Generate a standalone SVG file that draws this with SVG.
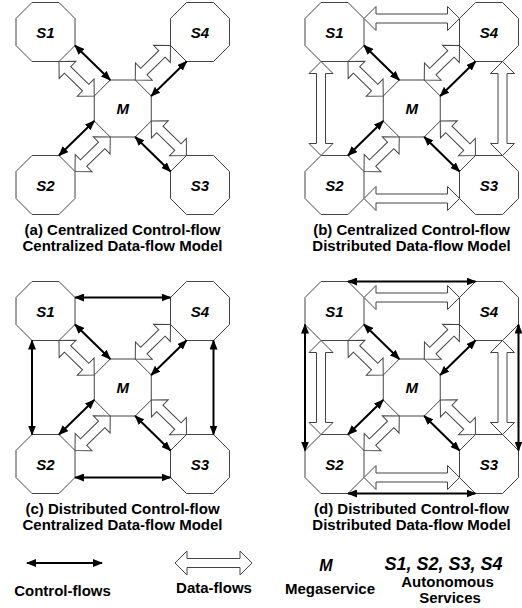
<svg xmlns="http://www.w3.org/2000/svg" width="522" height="608" viewBox="0 0 522 608">
<style>
.oct{fill:#fff;stroke:#444;stroke-width:1}
.data{fill:#fff;stroke:#444;stroke-width:1}
.ctrl{fill:none;stroke:#000;stroke-width:2;marker-start:url(#ah);marker-end:url(#ah)}
.lbl{font-family:"Liberation Sans",Arial,sans-serif;font-weight:bold;font-style:italic;font-size:15px;text-anchor:middle;fill:#000}
.cap{font-family:"Liberation Sans",Arial,sans-serif;font-weight:bold;font-size:15px;text-anchor:middle;fill:#000}
</style>
<defs>
  <marker id="ah" viewBox="0 0 10 8" refX="9" refY="4" markerWidth="10" markerHeight="8" markerUnits="userSpaceOnUse" orient="auto-start-reverse">
    <path d="M0,0 L10,4 L0,8 z" fill="#000"/>
  </marker>
  <!-- service and megaservice octagons, centred on the origin -->
  <polygon id="octS" points="-13.5,-29.5 13.5,-29.5 29.5,-13.5 29.5,13.5 13.5,29.5 -13.5,29.5 -29.5,13.5 -29.5,-13.5"/>
  <polygon id="octM" points="-12.5,-28.5 12.5,-28.5 28.5,-12.5 28.5,12.5 12.5,28.5 -12.5,28.5 -28.5,12.5 -28.5,-12.5"/>
  <!-- hollow double-headed data-flow arrows -->
  <polygon id="dDiag" points="0,0 12,-12 12,-4.5 37.3,-4.5 37.3,-12 49.3,0 37.3,12 37.3,4.5 12,4.5 12,12"/>
  <polygon id="dH" points="0,0 12,-12 12,-4.5 83.5,-4.5 83.5,-12 95.5,0 83.5,12 83.5,4.5 12,4.5 12,12"/>
  <polygon id="dV" points="0,0 -12,12 -4.5,12 -4.5,82 -12,82 0,94 12,82 4.5,82 4.5,12 12,12"/>
</defs>

<!-- (a) centralized control, centralized data -->
<g id="panel-a">
  <g id="a-S1"><use href="#octS" class="oct" x="45.5" y="32"/><text class="lbl" x="45.5" y="37.5">S1</text></g>
  <g id="a-S4"><use href="#octS" class="oct" x="200" y="32"/><text class="lbl" x="200" y="37.5">S4</text></g>
  <g id="a-S2"><use href="#octS" class="oct" x="45.5" y="185"/><text class="lbl" x="45.5" y="190.5">S2</text></g>
  <g id="a-S3"><use href="#octS" class="oct" x="200" y="185"/><text class="lbl" x="200" y="190.5">S3</text></g>
  <g id="a-M"><use href="#octM" class="oct" x="122.75" y="108.5"/><text class="lbl" x="122.75" y="114">M</text></g>
  <g id="a-connectors">
    <line class="ctrl" x1="75" y1="45.5" x2="110.25" y2="80"/>
    <line class="ctrl" x1="186.5" y1="61.5" x2="151.25" y2="96"/>
    <line class="ctrl" x1="135.25" y1="137" x2="170.5" y2="171.5"/>
    <line class="ctrl" x1="94.25" y1="121" x2="59" y2="155.5"/>
    <use href="#dDiag" class="data" transform="translate(59,61.5) rotate(44.38)"/>
    <use href="#dDiag" class="data" transform="translate(170.5,45.5) rotate(135.62)"/>
    <use href="#dDiag" class="data" transform="translate(151.25,121) rotate(44.38)"/>
    <use href="#dDiag" class="data" transform="translate(110.25,137) rotate(135.62)"/>
  </g>
  <text class="cap" x="122.5" y="235">(a) Centralized Control-flow</text>
  <text class="cap" x="122.5" y="251">Centralized Data-flow Model</text>
</g>

<!-- (b) centralized control, distributed data -->
<g id="panel-b" transform="translate(289,0)">
  <g id="b-S1"><use href="#octS" class="oct" x="45.5" y="32"/><text class="lbl" x="45.5" y="37.5">S1</text></g>
  <g id="b-S4"><use href="#octS" class="oct" x="200" y="32"/><text class="lbl" x="200" y="37.5">S4</text></g>
  <g id="b-S2"><use href="#octS" class="oct" x="45.5" y="185"/><text class="lbl" x="45.5" y="190.5">S2</text></g>
  <g id="b-S3"><use href="#octS" class="oct" x="200" y="185"/><text class="lbl" x="200" y="190.5">S3</text></g>
  <g id="b-M"><use href="#octM" class="oct" x="122.75" y="108.5"/><text class="lbl" x="122.75" y="114">M</text></g>
  <g id="b-connectors">
    <line class="ctrl" x1="75" y1="45.5" x2="110.25" y2="80"/>
    <line class="ctrl" x1="186.5" y1="61.5" x2="151.25" y2="96"/>
    <line class="ctrl" x1="135.25" y1="137" x2="170.5" y2="171.5"/>
    <line class="ctrl" x1="94.25" y1="121" x2="59" y2="155.5"/>
    <use href="#dDiag" class="data" transform="translate(59,61.5) rotate(44.38)"/>
    <use href="#dDiag" class="data" transform="translate(170.5,45.5) rotate(135.62)"/>
    <use href="#dDiag" class="data" transform="translate(151.25,121) rotate(44.38)"/>
    <use href="#dDiag" class="data" transform="translate(110.25,137) rotate(135.62)"/>
    <use href="#dH" class="data" transform="translate(75,18.5)"/>
    <use href="#dH" class="data" transform="translate(75,198.5)"/>
    <use href="#dV" class="data" transform="translate(32,61.5)"/>
    <use href="#dV" class="data" transform="translate(213.5,61.5)"/>
  </g>
  <text class="cap" x="122.5" y="235">(b) Centralized Control-flow</text>
  <text class="cap" x="122.5" y="251">Distributed Data-flow Model</text>
</g>

<!-- (c) distributed control, centralized data -->
<g id="panel-c" transform="translate(0,279)">
  <g id="c-S1"><use href="#octS" class="oct" x="45.5" y="32"/><text class="lbl" x="45.5" y="37.5">S1</text></g>
  <g id="c-S4"><use href="#octS" class="oct" x="200" y="32"/><text class="lbl" x="200" y="37.5">S4</text></g>
  <g id="c-S2"><use href="#octS" class="oct" x="45.5" y="185"/><text class="lbl" x="45.5" y="190.5">S2</text></g>
  <g id="c-S3"><use href="#octS" class="oct" x="200" y="185"/><text class="lbl" x="200" y="190.5">S3</text></g>
  <g id="c-M"><use href="#octM" class="oct" x="122.75" y="108.5"/><text class="lbl" x="122.75" y="114">M</text></g>
  <g id="c-connectors">
    <line class="ctrl" x1="75" y1="45.5" x2="110.25" y2="80"/>
    <line class="ctrl" x1="186.5" y1="61.5" x2="151.25" y2="96"/>
    <line class="ctrl" x1="135.25" y1="137" x2="170.5" y2="171.5"/>
    <line class="ctrl" x1="94.25" y1="121" x2="59" y2="155.5"/>
    <use href="#dDiag" class="data" transform="translate(59,61.5) rotate(44.38)"/>
    <use href="#dDiag" class="data" transform="translate(170.5,45.5) rotate(135.62)"/>
    <use href="#dDiag" class="data" transform="translate(151.25,121) rotate(44.38)"/>
    <use href="#dDiag" class="data" transform="translate(110.25,137) rotate(135.62)"/>
    <line class="ctrl" x1="75" y1="18.5" x2="170.5" y2="18.5"/>
    <line class="ctrl" x1="75" y1="198.5" x2="170.5" y2="198.5"/>
    <line class="ctrl" x1="32" y1="61.5" x2="32" y2="155.5"/>
    <line class="ctrl" x1="213.5" y1="61.5" x2="213.5" y2="155.5"/>
  </g>
  <text class="cap" x="122.5" y="235">(c) Distributed Control-flow</text>
  <text class="cap" x="122.5" y="251">Centralized Data-flow Model</text>
</g>

<!-- (d) distributed control, distributed data -->
<g id="panel-d" transform="translate(289,279)">
  <g id="d-S1"><use href="#octS" class="oct" x="45.5" y="32"/><text class="lbl" x="45.5" y="37.5">S1</text></g>
  <g id="d-S4"><use href="#octS" class="oct" x="200" y="32"/><text class="lbl" x="200" y="37.5">S4</text></g>
  <g id="d-S2"><use href="#octS" class="oct" x="45.5" y="185"/><text class="lbl" x="45.5" y="190.5">S2</text></g>
  <g id="d-S3"><use href="#octS" class="oct" x="200" y="185"/><text class="lbl" x="200" y="190.5">S3</text></g>
  <g id="d-M"><use href="#octM" class="oct" x="122.75" y="108.5"/><text class="lbl" x="122.75" y="114">M</text></g>
  <g id="d-connectors">
    <line class="ctrl" x1="75" y1="45.5" x2="110.25" y2="80"/>
    <line class="ctrl" x1="186.5" y1="61.5" x2="151.25" y2="96"/>
    <line class="ctrl" x1="135.25" y1="137" x2="170.5" y2="171.5"/>
    <line class="ctrl" x1="94.25" y1="121" x2="59" y2="155.5"/>
    <use href="#dDiag" class="data" transform="translate(59,61.5) rotate(44.38)"/>
    <use href="#dDiag" class="data" transform="translate(170.5,45.5) rotate(135.62)"/>
    <use href="#dDiag" class="data" transform="translate(151.25,121) rotate(44.38)"/>
    <use href="#dDiag" class="data" transform="translate(110.25,137) rotate(135.62)"/>
    <use href="#dH" class="data" transform="translate(75,18.5)"/>
    <use href="#dH" class="data" transform="translate(75,198.5)"/>
    <use href="#dV" class="data" transform="translate(32,61.5)"/>
    <use href="#dV" class="data" transform="translate(213.5,61.5)"/>
    <line class="ctrl" x1="59" y1="2.5" x2="186.5" y2="2.5"/>
    <line class="ctrl" x1="59" y1="214.5" x2="186.5" y2="214.5"/>
    <line class="ctrl" x1="16" y1="45.5" x2="16" y2="171.5"/>
    <line class="ctrl" x1="229.5" y1="45.5" x2="229.5" y2="171.5"/>
  </g>
  <text class="cap" x="122.5" y="235">(d) Distributed Control-flow</text>
  <text class="cap" x="122.5" y="251">Distributed Data-flow Model</text>
</g>

<!-- legend -->
<g id="legend">
  <g id="legend-control">
    <line class="ctrl" x1="27" y1="563" x2="102" y2="563"/>
    <text class="cap" x="62.5" y="596">Control-flows</text>
  </g>
  <g id="legend-data">
    <polygon class="data" points="175,563 187,551 187,558.5 240,558.5 240,551 252,563 240,575 240,567.5 187,567.5 187,575"/>
    <text class="cap" x="214" y="593">Data-flows</text>
  </g>
  <g id="legend-mega">
    <text class="lbl" x="326" y="570.5" style="font-size:16px">M</text>
    <text class="cap" x="330" y="593.5">Megaservice</text>
  </g>
  <g id="legend-services">
    <text class="lbl" x="443.5" y="570" style="font-size:18px">S1, S2, S3, S4</text>
    <text class="cap" x="447.5" y="586.5">Autonomous</text>
    <text class="cap" x="450" y="602.5">Services</text>
  </g>
</g>
</svg>
